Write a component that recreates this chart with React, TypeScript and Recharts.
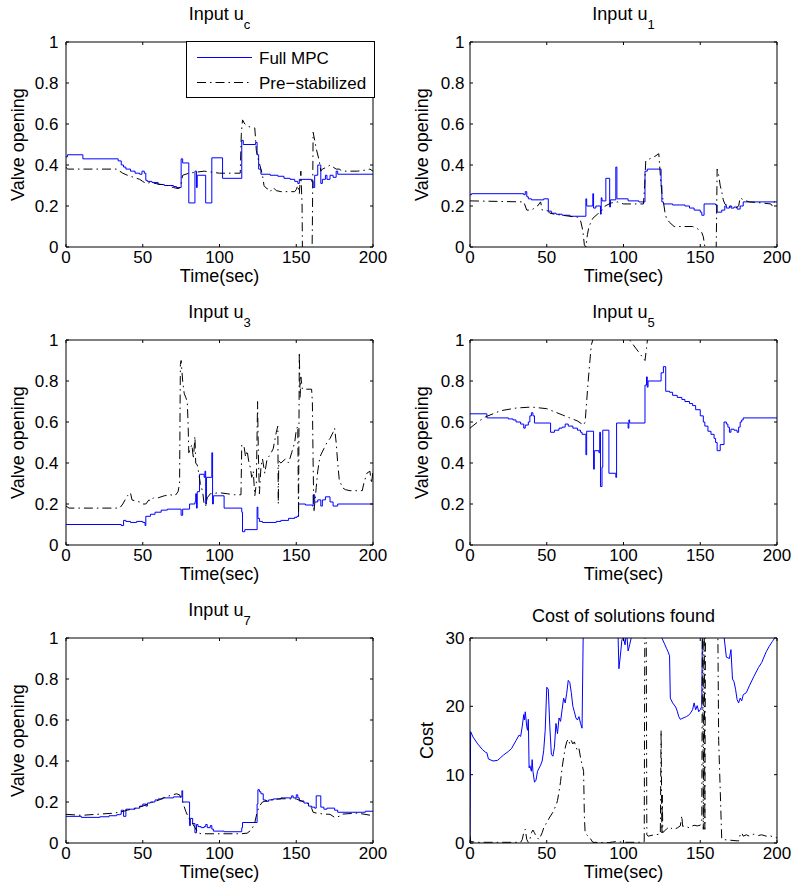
import { LineChart, Line, XAxis, YAxis, Legend } from 'recharts'

const FONT = '"Liberation Sans", Arial, Helvetica, sans-serif'
const BLUE = '#0000ff'
const DASH = '9 4 1.5 4'

type Pt = [number, number]

const timeTicks = [0, 50, 100, 150, 200]
const valveTicks = [0, 0.2, 0.4, 0.6, 0.8, 1]
const costTicks = [0, 10, 20, 30]

// input u_c
const ucFull: Pt[] = [[0,0.44],[1,0.45],[11,0.43],[34,0.42],[36,0.4],[37.5,0.39],[39,0.38],[42,0.37],[45,0.36],[48,0.355],[49.5,0.37],[51,0.36],[52,0.325],[53,0.32],[56,0.315],[60,0.305],[64,0.3],[70,0.295],[72,0.29],[75,0.43],[76,0.41],[80,0.215],[84,0.37],[85,0.29],[85.5,0.35],[91,0.215],[95,0.435],[102,0.335],[114.5,0.52],[115.5,0.5],[123.5,0.51],[124.5,0.45],[125.5,0.38],[127,0.355],[133,0.35],[138,0.345],[142,0.335],[146,0.33],[149,0.32],[151,0.31],[152,0.33],[160,0.32],[161,0.29],[162,0.35],[164,0.4],[166,0.31],[167,0.33],[169,0.35],[170,0.33],[172,0.35],[174,0.34],[176,0.37],[177,0.355],[200,0.355]]
const ucPre: Pt[] = [[0,0.39],[1,0.38],[33,0.38],[35,0.37],[37,0.36],[40,0.35],[44,0.34],[48,0.33],[50,0.32],[52,0.31],[55,0.315],[58,0.31],[62,0.305],[66,0.3],[70,0.29],[73,0.285],[74.5,0.29],[75,0.31],[76,0.35],[80,0.36],[85,0.365],[90,0.37],[95,0.365],[100,0.36],[113.5,0.36],[114.2,0.55],[115,0.62],[116.5,0.6],[118,0.59],[120,0.585],[123,0.58],[124,0.47],[125.5,0.42],[127,0.38],[128,0.35],[129,0.3],[130,0.29],[132,0.28],[133,0.27],[135,0.29],[137,0.275],[140,0.27],[145,0.27],[149,0.27],[150,0.28],[151,0.3],[152,0.26],[153,0.37],[153.8,0.2],[154.5,-0.5],[159.5,-0.5],[160.5,0.1],[161,0.56],[162,0.52],[163,0.48],[165,0.42],[166,0.37],[167,0.38],[170,0.39],[172,0.4],[174,0.39],[176,0.38],[178,0.38],[180,0.37],[185,0.37],[190,0.37],[195,0.375],[198,0.38],[200,0.37]]

// input u_1
const u1Full: Pt[] = [[0,0.255],[1,0.26],[35,0.255],[36,0.27],[37,0.245],[38,0.235],[40,0.23],[48,0.235],[51,0.175],[53,0.165],[56,0.16],[60,0.155],[65,0.15],[75.5,0.235],[76,0.2],[80,0.26],[80.5,0.19],[82,0.2],[85,0.16],[85.5,0.24],[86,0.225],[88.5,0.335],[91,0.195],[91.5,0.23],[95,0.39],[95.7,0.235],[103,0.225],[110,0.22],[114,0.37],[115.5,0.38],[124.5,0.3],[125,0.22],[126,0.21],[132,0.205],[140,0.2],[143,0.19],[146,0.18],[150,0.17],[151,0.155],[152.5,0.21],[160,0.205],[161,0.17],[164,0.18],[166,0.2],[167,0.19],[169,0.2],[170,0.19],[172,0.195],[174,0.185],[176,0.2],[178,0.22],[200,0.22]]
const u1Pre: Pt[] = [[0,0.225],[35,0.22],[36,0.2],[37,0.18],[40,0.18],[42,0.19],[44,0.2],[46,0.22],[47,0.18],[50,0.18],[52,0.165],[55,0.16],[60,0.155],[65,0.15],[70,0.145],[72,0.13],[73.5,0.08],[74.5,0.01],[75.5,0],[76.5,0.06],[77.5,0.1],[80,0.14],[83,0.16],[85,0.17],[88,0.2],[92,0.215],[96,0.22],[100,0.21],[113,0.21],[113.8,0.3],[114.5,0.42],[117,0.43],[120,0.44],[123,0.455],[124,0.35],[125,0.26],[126,0.22],[127,0.17],[128,0.14],[130,0.12],[133,0.1],[145,0.1],[148,0.09],[150,0.08],[151,0.07],[152,0.05],[153,0],[153.5,-0.4],[159.5,-0.4],[160.5,0.05],[161,0.38],[162,0.35],[163,0.3],[164,0.27],[165,0.23],[166,0.21],[168,0.2],[170,0.2],[173,0.19],[175,0.2],[176,0.24],[178,0.23],[182,0.22],[190,0.215],[196,0.21],[197,0.2],[198,0.22],[200,0.22]]

// input u_3
const u3Full: Pt[] = [[0,0.1],[36,0.095],[37.5,0.12],[39,0.115],[42,0.11],[46,0.115],[50,0.11],[51.5,0.095],[52,0.14],[55,0.15],[58,0.16],[62,0.17],[66,0.175],[75,0.145],[76,0.175],[80.5,0.2],[84,0.21],[84.5,0.25],[85,0.18],[85.5,0.26],[87,0.345],[90,0.33],[90.5,0.36],[91,0.2],[91.5,0.33],[95,0.45],[95.5,0.2],[96,0.24],[103,0.18],[114.5,0.16],[115,0.065],[116.5,0.075],[124.5,0.185],[125,0.13],[126,0.115],[128,0.11],[137,0.115],[140,0.12],[145,0.13],[149,0.135],[150.5,0.14],[151.5,0.2],[156,0.195],[160.5,0.19],[161,0.245],[162,0.21],[164,0.22],[166,0.19],[167,0.22],[169,0.235],[172,0.21],[174,0.19],[177,0.2],[200,0.2]]
const u3Pre: Pt[] = [[0,0.19],[2,0.18],[35,0.18],[37,0.2],[40,0.24],[42,0.255],[43,0.22],[45,0.215],[48,0.21],[50,0.2],[52,0.2],[54,0.22],[55,0.215],[57,0.23],[60,0.23],[64,0.24],[68,0.245],[71,0.24],[73,0.26],[74,0.3],[74.5,0.88],[75,0.9],[76,0.8],[77,0.74],[78,0.72],[79,0.7],[79.5,0.6],[80,0.45],[81,0.47],[82,0.49],[83,0.42],[84,0.53],[84.5,0.4],[85.5,0.39],[86.5,0.35],[87.5,0.3],[89,0.26],[90,0.2],[91,0.19],[92,0.23],[94,0.25],[100,0.255],[105,0.25],[110,0.245],[114,0.245],[114.5,0.49],[116,0.48],[117,0.43],[118,0.46],[119,0.41],[120,0.38],[121,0.33],[122,0.36],[123,0.24],[124,0.3],[124.8,0.7],[125.3,0.45],[126,0.25],[127,0.38],[128,0.42],[129.5,0.35],[131,0.42],[133,0.44],[135,0.47],[137,0.55],[138,0.58],[138.3,0.2],[138.6,0.41],[140,0.4],[143,0.42],[145,0.4],[147,0.45],[149,0.5],[150,0.56],[151,0.58],[151.5,0.14],[152,0.94],[152.5,0.72],[153,0.82],[154,0.76],[160,0.76],[160.5,0.7],[161,0.4],[161.5,0.16],[162,0.2],[163,0.28],[164,0.36],[165,0.41],[166,0.44],[168,0.47],[170,0.5],[172,0.52],[174,0.55],[175,0.57],[176,0.5],[177,0.4],[178,0.32],[180,0.28],[182,0.27],[185,0.265],[193,0.265],[194,0.3],[196,0.35],[198,0.36],[199,0.3],[200,0.36]]

// input u_5
const u5Full: Pt[] = [[0,0.64],[11,0.62],[25,0.615],[28,0.61],[30,0.6],[33,0.59],[35,0.57],[36,0.585],[38,0.6],[39,0.63],[40,0.645],[41,0.63],[42,0.595],[52.5,0.55],[55,0.56],[58,0.57],[60,0.575],[62,0.59],[64,0.58],[67,0.57],[70,0.56],[72,0.55],[73,0.54],[75.5,0.44],[76,0.555],[80.5,0.37],[81,0.46],[84,0.45],[84.5,0.55],[85,0.285],[86,0.38],[86.5,0.56],[90.5,0.35],[95,0.33],[95.5,0.595],[103,0.57],[103.5,0.61],[104,0.595],[114,0.78],[115,0.82],[115.5,0.77],[116,0.8],[124.5,0.84],[126,0.87],[127.5,0.75],[130,0.745],[132,0.73],[135,0.72],[138,0.71],[140,0.7],[143,0.69],[145,0.68],[147,0.66],[150,0.63],[152,0.6],[153,0.58],[155,0.555],[157,0.54],[159,0.52],[160,0.5],[161,0.46],[163,0.49],[165.5,0.6],[167,0.59],[168,0.575],[169,0.55],[170,0.565],[172,0.56],[174,0.55],[175,0.575],[176,0.6],[177,0.61],[178,0.62],[200,0.62]]
const u5Pre: Pt[] = [[0,0.57],[5,0.6],[10,0.625],[15,0.64],[20,0.655],[30,0.668],[40,0.673],[50,0.665],[55,0.65],[60,0.635],[65,0.62],[70,0.605],[74,0.585],[75,0.6],[77,0.8],[79,0.975],[80,1.0],[90,1.06],[100,1.03],[104,1.0],[108,0.96],[111,0.93],[114,0.9],[115,0.96],[116,1.03],[120,1.15],[140,1.2],[200,1.2]]

// input u_7
const u7Full: Pt[] = [[0,0.13],[10,0.125],[22,0.128],[28,0.133],[33,0.138],[35,0.14],[36,0.16],[37.5,0.13],[39,0.165],[45,0.17],[48,0.18],[50,0.19],[52,0.18],[53,0.195],[55,0.2],[58,0.21],[60,0.215],[63,0.22],[70,0.225],[75.5,0.255],[76,0.2],[80.5,0.085],[81,0.12],[82.5,0.095],[84,0.05],[85,0.09],[86,0.08],[88,0.075],[90,0.08],[91,0.09],[92,0.075],[94,0.085],[95,0.068],[96,0.058],[103,0.055],[114.5,0.075],[115,0.1],[124.5,0.19],[125,0.26],[126,0.25],[127,0.24],[128.5,0.21],[130,0.203],[132,0.21],[135,0.215],[140,0.22],[147,0.23],[148,0.22],[150,0.235],[151,0.22],[152,0.205],[155,0.195],[158,0.18],[160,0.175],[162,0.17],[163,0.23],[166,0.175],[168,0.165],[170,0.17],[175,0.16],[177,0.15],[195,0.155],[200,0.155]]
const u7Pre: Pt[] = [[0,0.14],[10,0.135],[20,0.14],[30,0.145],[35,0.15],[40,0.16],[45,0.17],[50,0.18],[55,0.195],[60,0.208],[65,0.225],[70,0.236],[72,0.24],[74,0.235],[76,0.2],[78,0.155],[80,0.12],[82,0.1],[84,0.075],[86,0.05],[88,0.045],[114,0.045],[118,0.048],[121,0.065],[123,0.1],[124.5,0.15],[126,0.18],[128,0.2],[132,0.21],[140,0.216],[150,0.215],[155,0.2],[158,0.19],[160,0.17],[161,0.15],[163,0.146],[168,0.141],[172,0.14],[175,0.125],[178,0.13],[180,0.141],[190,0.146],[200,0.133]]

// cost of solutions found
const costFull: Pt[] = [[0,0],[0.4,16.3],[2,15.5],[5,14.5],[8,13.7],[10,13.3],[11,13.2],[12,12.3],[15,12],[18,12.1],[20,12.5],[22,12.9],[25,13.4],[27,13.8],[28,14.2],[30,15],[32,15.8],[33,15.6],[34,17],[35,18.8],[35.5,18],[36,19.2],[37,17],[37.5,16.5],[38,18.1],[38.5,11],[39,11.3],[40,10.5],[40.5,12.2],[41,10.5],[42,8.9],[43,9.2],[44,10.5],[46,11.4],[47,12],[48,13.5],[49,16.5],[50,22.8],[51,22.5],[52,17],[53,13],[54,12.7],[55,14],[56,17.5],[57,16],[58,18.3],[59,17.8],[60,19.5],[61,21.2],[62,20.5],[63,21.9],[64,23.8],[65,23.5],[66,22],[67,20],[68,19.2],[69,18.3],[70,18],[71,18.5],[72,17.5],[73,16.8],[74,35],[80,40],[90,40],[96,35],[96.5,30],[97,25.5],[98,27.5],[99,29.8],[100,30],[101,29],[102,31],[103,28.1],[104,29],[105,30],[106,35],[115,40],[124,35],[125,30],[127,29],[128,28.5],[129,28],[130,27.4],[130.5,21.2],[132,20.5],[134,19.9],[135,19.3],[136,18.5],[137,18.1],[138,18.2],[140,18.4],[141,18.5],[143,18.8],[145,19.5],[146,20.5],[147,19.5],[148,20.1],[149,19.2],[150,19.5],[151,20],[151.5,35],[160,40],[165,35],[165.6,30],[167,27.2],[169,27],[170,28.3],[171,24],[172,23.6],[173,22.5],[174,21],[175,20.5],[176,21.2],[177,20.8],[178,21.7],[180,22],[182,23],[185,24.4],[188,25.7],[190,26.4],[193,28],[195,28.8],[197,29.5],[198.5,30],[200,30.2]]
const costPre: Pt[] = [[0,1],[0.5,0.2],[5,0.1],[33,0.1],[34,0.5],[35,1.5],[36,2],[37,0.5],[38,0.1],[39,0.5],[40,1.5],[41,1.9],[42,1.5],[43,1],[44,0.75],[45,0.5],[46,1],[47,1.5],[48,2.2],[50,3],[52,3.8],[54,4.5],[56,5.5],[57,6.2],[58,7.5],[59,9],[60,11],[61,12.5],[62,13.9],[63,14.8],[64,15.2],[65,14.5],[66,15],[67,14.5],[68,14.8],[69,14.1],[70,13.5],[71,13.8],[72,12.5],[73,11.5],[74,10.5],[74.5,4],[75,1.5],[76,1.2],[78,0.8],[80,0.1],[90,0.05],[95,0.2],[100,0.1],[110,0.1],[113.5,0.2],[114,40],[114.7,40],[115.2,1.2],[116,1],[120,1.2],[124,1.3],[124.5,16.5],[125,1.5],[125.3,7],[125.6,1.5],[128,2.05],[130,2.4],[132,2],[134,2.1],[135,2.2],[137,2.5],[138,4],[138.5,2.45],[140,2.5],[143,2.2],[145,2.5],[146,2.6],[148,2.5],[150,2.6],[151,3],[151.5,40],[152,2],[152.5,40],[153,2],[153.5,40],[160,40],[161.5,30],[162,15],[164,0.6],[165,0.5],[170,0.4],[175,0.3],[176,1.2],[177,1.5],[178,1],[180,1.2],[182,1],[185,1.3],[188,1.1],[190,1.2],[193,1],[195,1.1],[198,0.85],[200,0.75]]

const rows = (pts: Pt[]) => pts.map(([t, v]) => ({ t, v }))

const axisLine = { stroke: '#000', strokeWidth: 1 }
const noTick = () => <g />

const bottomTick = (p: any) => (
  <text x={p.x} y={p.y} dy="0.71em" textAnchor="middle" fontSize={17} fontFamily={FONT} fill="#000">
    {p.payload.value}
  </text>
)
const leftTick = (p: any) => (
  <text x={p.x} y={p.y} dy="0.355em" textAnchor="end" fontSize={17} fontFamily={FONT} fill="#000">
    {p.payload.value}
  </text>
)

function LegendBox() {
  return (
    <svg width={189} height={57} style={{ display: 'block' }}>
      <rect x={0.5} y={0.5} width={188} height={56} fill="#fff" stroke="#000" />
      <line x1={11} x2={66} y1={16.5} y2={16.5} stroke={BLUE} />
      <text x={73} y={23} fontSize={17} fontFamily={FONT}>Full MPC</text>
      <line x1={11} x2={66} y1={41.5} y2={41.5} stroke="#000" strokeDasharray={DASH} />
      <text x={73} y={48} fontSize={17} fontFamily={FONT}>Pre−stabilized</text>
    </svg>
  )
}

interface PanelProps {
  left: number
  top: number
  title: string
  sub?: string
  yLabel: string
  yMax: number
  yTicks: number[]
  full: Pt[]
  pre: Pt[]
  fullType: 'stepAfter' | 'linear'
  tickGap: number
  labelGap: number
  legend?: boolean
}

function Panel({ left, top, title, sub, yLabel, yMax, yTicks, full, pre, fullType, tickGap, labelGap, legend }: PanelProps) {
  return (
    <div style={{ position: 'absolute', left, top }}>
      <LineChart width={393} height={295} margin={{ top: 41, right: 19, bottom: 0, left: 0 }}>
        <XAxis
          xAxisId="b"
          type="number"
          dataKey="t"
          domain={[0, 200]}
          ticks={timeTicks}
          interval={0}
          allowDataOverflow
          height={48}
          tickSize={-3}
          tickMargin={7}
          axisLine={axisLine}
          tickLine={axisLine}
          tick={bottomTick}
          label={({ viewBox }: any) => (
            <text x={viewBox.x + viewBox.width / 2} y={viewBox.y + 34.5} textAnchor="middle" fontSize={18} fontFamily={FONT}>
              Time(sec)
            </text>
          )}
        />
        <XAxis
          xAxisId="t"
          orientation="top"
          type="number"
          dataKey="t"
          domain={[0, 200]}
          ticks={timeTicks}
          interval={0}
          allowDataOverflow
          height={1}
          tickSize={-3}
          axisLine={axisLine}
          tickLine={axisLine}
          tick={noTick}
          label={({ viewBox }: any) => (
            <text x={viewBox.x + viewBox.width / 2} y={viewBox.y + viewBox.height - (sub ? 22 : 16)} textAnchor="middle" fontSize={18} fontFamily={FONT}>
              {title}
              {sub && <tspan dy={8.5} fontSize={13}>{sub}</tspan>}
            </text>
          )}
        />
        <YAxis
          yAxisId="l"
          type="number"
          domain={[0, yMax]}
          ticks={yTicks}
          interval={0}
          allowDataOverflow
          width={66}
          tickSize={-3}
          tickMargin={3 + tickGap}
          axisLine={axisLine}
          tickLine={axisLine}
          tick={leftTick}
          label={({ viewBox }: any) => {
            const bx = viewBox.x + viewBox.width - labelGap
            const cy = viewBox.y + viewBox.height / 2
            return (
              <text x={bx} y={cy} transform={`rotate(-90, ${bx}, ${cy})`} textAnchor="middle" fontSize={18} fontFamily={FONT}>
                {yLabel}
              </text>
            )
          }}
        />
        <YAxis
          yAxisId="r"
          orientation="right"
          type="number"
          domain={[0, yMax]}
          ticks={yTicks}
          interval={0}
          allowDataOverflow
          width={1}
          tickSize={-3}
          axisLine={axisLine}
          tickLine={axisLine}
          tick={noTick}
        />
        {legend && (
          <Legend
            layout="vertical"
            align="center"
            verticalAlign="middle"
            wrapperStyle={{ left: 186, top: 41, width: 189, height: 57 }}
            content={() => <LegendBox />}
          />
        )}
        <Line
          xAxisId="b"
          yAxisId="l"
          data={rows(full)}
          dataKey="v"
          type={fullType}
          stroke={BLUE}
          strokeWidth={1}
          dot={false}
          isAnimationActive={false}
        />
        <Line
          xAxisId="b"
          yAxisId="l"
          data={rows(pre)}
          dataKey="v"
          type="linear"
          stroke="#000"
          strokeWidth={1}
          strokeDasharray={DASH}
          dot={false}
          isAnimationActive={false}
        />
      </LineChart>
    </div>
  )
}

export default function App() {
  return (
    <div style={{ position: 'absolute', left: 0, top: 0, width: 795, height: 895, background: '#fff', fontFamily: FONT }}>
      <Panel left={0} top={0} title="Input u" sub="c" yLabel="Valve opening" yMax={1} yTicks={valveTicks} full={ucFull} pre={ucPre} fullType="stepAfter" tickGap={7.5} labelGap={42} legend />
      <Panel left={404} top={0} title="Input u" sub="1" yLabel="Valve opening" yMax={1} yTicks={valveTicks} full={u1Full} pre={u1Pre} fullType="stepAfter" tickGap={5.5} labelGap={42} />
      <Panel left={0} top={298} title="Input u" sub="3" yLabel="Valve opening" yMax={1} yTicks={valveTicks} full={u3Full} pre={u3Pre} fullType="stepAfter" tickGap={7.5} labelGap={42} />
      <Panel left={404} top={298} title="Input u" sub="5" yLabel="Valve opening" yMax={1} yTicks={valveTicks} full={u5Full} pre={u5Pre} fullType="stepAfter" tickGap={5.5} labelGap={42} />
      <Panel left={0} top={596} title="Input u" sub="7" yLabel="Valve opening" yMax={1} yTicks={valveTicks} full={u7Full} pre={u7Pre} fullType="stepAfter" tickGap={7.5} labelGap={42} />
      <Panel left={404} top={596} title="Cost of solutions found" yLabel="Cost" yMax={30} yTicks={costTicks} full={costFull} pre={costPre} fullType="linear" tickGap={5.5} labelGap={37} />
    </div>
  )
}
